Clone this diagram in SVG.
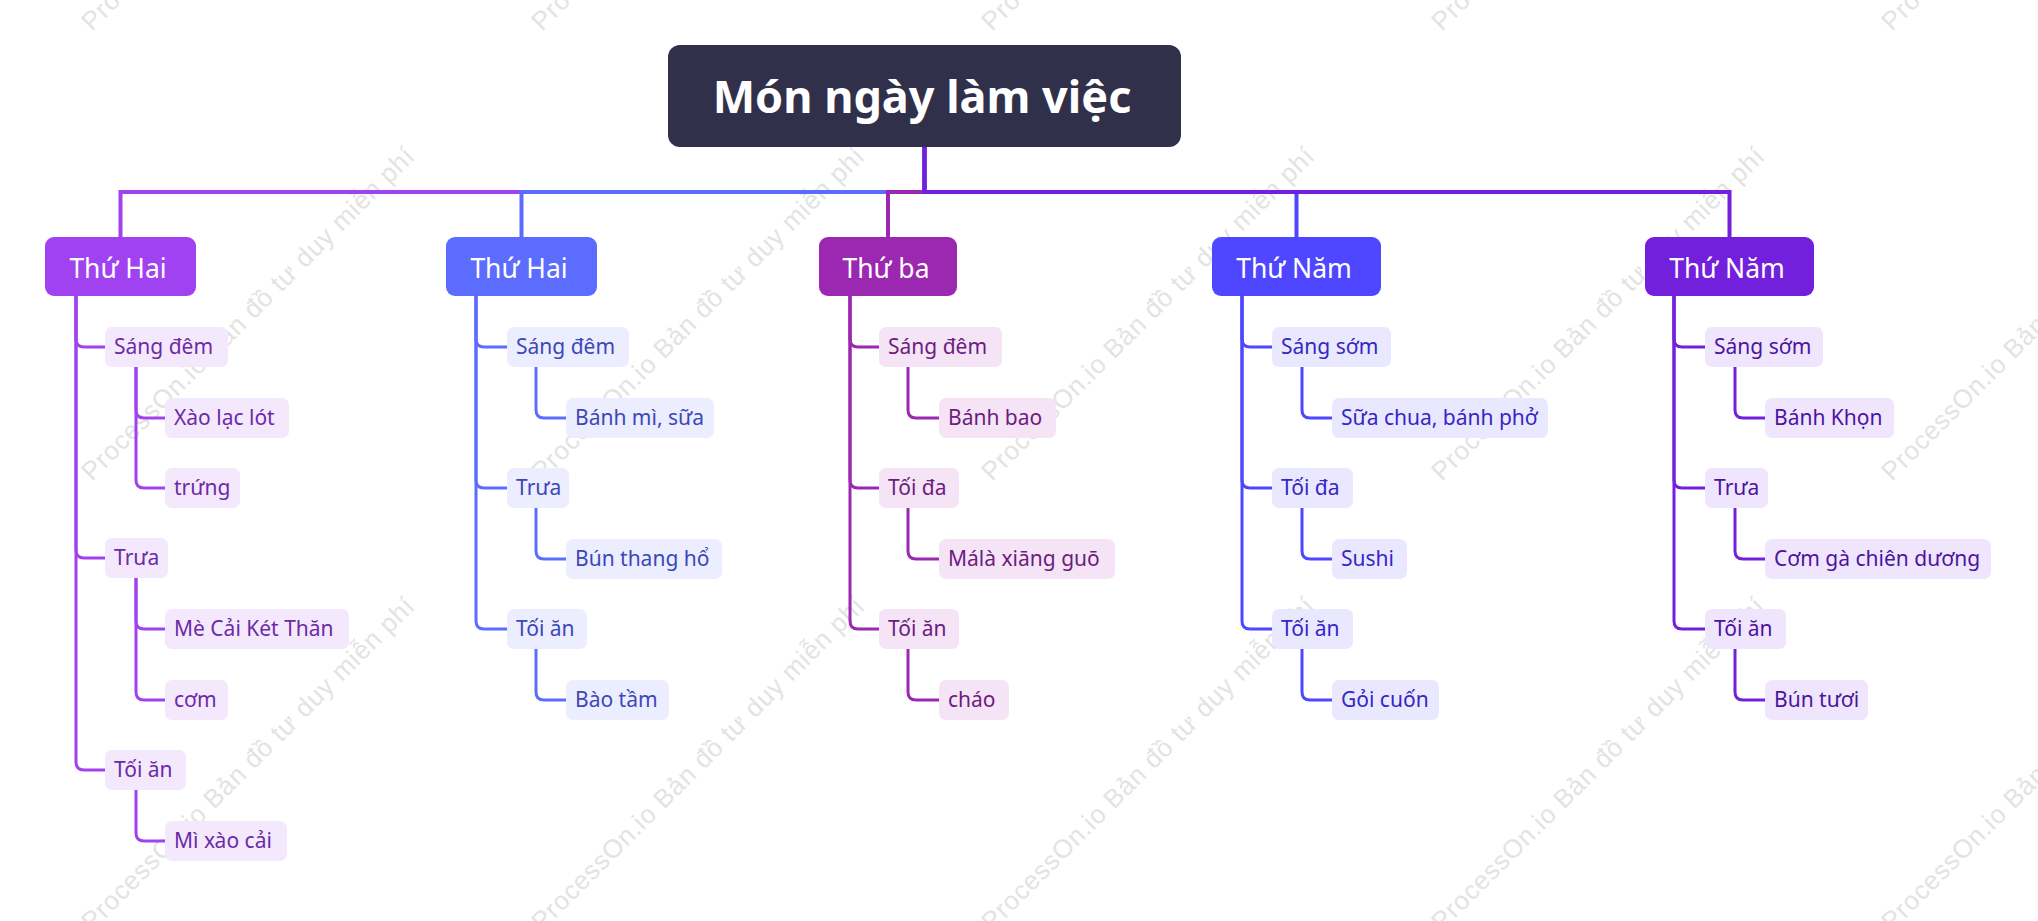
<svg xmlns="http://www.w3.org/2000/svg" width="2038" height="921" viewBox="0 0 2038 921">
<style>
.wm{font-family:"Liberation Sans",Arial,sans-serif;font-size:26px;fill:#e3e3e3}
.root-t{font-family:"Noto Sans","Open Sans",sans-serif;font-weight:700;font-size:45px;fill:#fff;text-anchor:middle}
.l1t{font-family:"Noto Sans","Open Sans",sans-serif;font-size:26.5px;fill:#fff;text-anchor:middle}
.l2t{font-family:"Noto Sans","Open Sans",sans-serif;font-size:21px}
.c{fill:none;stroke-width:3;stroke-linecap:round;stroke-linejoin:round}
.top{fill:none;stroke-width:4}
.k1{stroke:#a142f0}.k2{stroke:#5b6cff}.k3{stroke:#9c27b0}.k4{stroke:#4f46ff}.k5{stroke:#7220dc}
.f1{fill:#f4e8fd}.f2{fill:#ecedfe}.f3{fill:#f4e4f6}.f4{fill:#eae8ff}.f5{fill:#efe5fc}
.t1{fill:#6c2ba6}.t2{fill:#3b48b8}.t3{fill:#6d1c80}.t4{fill:#3527c4}.t5{fill:#4c14a0}
</style>
<rect width="2038" height="921" fill="#ffffff"/>
<g id="watermark">
<text class="wm" x="92" y="32" transform="rotate(-45 92 32)" textLength="458">ProcessOn.io Bản đồ tư duy miễn phí</text>
<text class="wm" x="542" y="32" transform="rotate(-45 542 32)" textLength="458">ProcessOn.io Bản đồ tư duy miễn phí</text>
<text class="wm" x="992" y="32" transform="rotate(-45 992 32)" textLength="458">ProcessOn.io Bản đồ tư duy miễn phí</text>
<text class="wm" x="1442" y="32" transform="rotate(-45 1442 32)" textLength="458">ProcessOn.io Bản đồ tư duy miễn phí</text>
<text class="wm" x="1892" y="32" transform="rotate(-45 1892 32)" textLength="458">ProcessOn.io Bản đồ tư duy miễn phí</text>
<text class="wm" x="92" y="482" transform="rotate(-45 92 482)" textLength="458">ProcessOn.io Bản đồ tư duy miễn phí</text>
<text class="wm" x="542" y="482" transform="rotate(-45 542 482)" textLength="458">ProcessOn.io Bản đồ tư duy miễn phí</text>
<text class="wm" x="992" y="482" transform="rotate(-45 992 482)" textLength="458">ProcessOn.io Bản đồ tư duy miễn phí</text>
<text class="wm" x="1442" y="482" transform="rotate(-45 1442 482)" textLength="458">ProcessOn.io Bản đồ tư duy miễn phí</text>
<text class="wm" x="1892" y="482" transform="rotate(-45 1892 482)" textLength="458">ProcessOn.io Bản đồ tư duy miễn phí</text>
<text class="wm" x="92" y="932" transform="rotate(-45 92 932)" textLength="458">ProcessOn.io Bản đồ tư duy miễn phí</text>
<text class="wm" x="542" y="932" transform="rotate(-45 542 932)" textLength="458">ProcessOn.io Bản đồ tư duy miễn phí</text>
<text class="wm" x="992" y="932" transform="rotate(-45 992 932)" textLength="458">ProcessOn.io Bản đồ tư duy miễn phí</text>
<text class="wm" x="1442" y="932" transform="rotate(-45 1442 932)" textLength="458">ProcessOn.io Bản đồ tư duy miễn phí</text>
<text class="wm" x="1892" y="932" transform="rotate(-45 1892 932)" textLength="458">ProcessOn.io Bản đồ tư duy miễn phí</text>
</g>
<g id="connectors">
<path class="top k1" d="M924.5 147 V192 H120.5 V238"/>
<path class="top k2" d="M924.5 147 V192 H521.5 V238"/>
<path class="top k3" d="M924.5 147 V192 H888 V238"/>
<path class="top k4" d="M924.5 147 V192 H1296.5 V238"/>
<path class="top k5" d="M924.5 147 V192 H1729.5 V238"/>
<path class="c k1" d="M76 296 V339 Q76 347 84 347 H105"/>
<path class="c k1" d="M76 296 V550 Q76 558 84 558 H105"/>
<path class="c k1" d="M76 296 V762 Q76 770 84 770 H105"/>
<path class="c k1" d="M136 367 V410 Q136 418 144 418 H165"/>
<path class="c k1" d="M136 367 V480 Q136 488 144 488 H165"/>
<path class="c k1" d="M136 578 V621 Q136 629 144 629 H165"/>
<path class="c k1" d="M136 578 V692 Q136 700 144 700 H165"/>
<path class="c k1" d="M136 790 V833 Q136 841 144 841 H165"/>
<path class="c k2" d="M476 296 V339 Q476 347 484 347 H507"/>
<path class="c k2" d="M476 296 V480 Q476 488 484 488 H507"/>
<path class="c k2" d="M476 296 V621 Q476 629 484 629 H507"/>
<path class="c k2" d="M536 367 V410 Q536 418 544 418 H566"/>
<path class="c k2" d="M536 508 V551 Q536 559 544 559 H566"/>
<path class="c k2" d="M536 649 V692 Q536 700 544 700 H566"/>
<path class="c k3" d="M850 296 V339 Q850 347 858 347 H879"/>
<path class="c k3" d="M850 296 V480 Q850 488 858 488 H879"/>
<path class="c k3" d="M850 296 V621 Q850 629 858 629 H879"/>
<path class="c k3" d="M908 367 V410 Q908 418 916 418 H939"/>
<path class="c k3" d="M908 508 V551 Q908 559 916 559 H939"/>
<path class="c k3" d="M908 649 V692 Q908 700 916 700 H939"/>
<path class="c k4" d="M1242 296 V339 Q1242 347 1250 347 H1272"/>
<path class="c k4" d="M1242 296 V480 Q1242 488 1250 488 H1272"/>
<path class="c k4" d="M1242 296 V621 Q1242 629 1250 629 H1272"/>
<path class="c k4" d="M1302 367 V410 Q1302 418 1310 418 H1332"/>
<path class="c k4" d="M1302 508 V551 Q1302 559 1310 559 H1332"/>
<path class="c k4" d="M1302 649 V692 Q1302 700 1310 700 H1332"/>
<path class="c k5" d="M1674 296 V339 Q1674 347 1682 347 H1705"/>
<path class="c k5" d="M1674 296 V480 Q1674 488 1682 488 H1705"/>
<path class="c k5" d="M1674 296 V621 Q1674 629 1682 629 H1705"/>
<path class="c k5" d="M1735 367 V410 Q1735 418 1743 418 H1765"/>
<path class="c k5" d="M1735 508 V551 Q1735 559 1743 559 H1765"/>
<path class="c k5" d="M1735 649 V692 Q1735 700 1743 700 H1765"/>
</g>
<g id="root">
<rect x="668" y="45" width="513" height="102" rx="12" fill="#31304b"/>
<text class="root-t" x="922" y="113">Món ngày làm việc</text>
</g>
<g id="n1"><rect x="45" y="237" width="151" height="59" rx="9" fill="#a142f0"/><text class="l1t" x="118" y="278">Thứ Hai</text></g>
<g id="n1a"><rect class="f1" x="105" y="327" width="123" height="40" rx="7"/><text class="l2t t1" x="114" y="354">Sáng đêm</text></g>
<g id="n1a1"><rect class="f1" x="165" y="398" width="124" height="40" rx="7"/><text class="l2t t1" x="174" y="425">Xào lạc lót</text></g>
<g id="n1a2"><rect class="f1" x="165" y="468" width="75" height="40" rx="7"/><text class="l2t t1" x="174" y="495">trứng</text></g>
<g id="n1b"><rect class="f1" x="105" y="538" width="63" height="40" rx="7"/><text class="l2t t1" x="114" y="565">Trưa</text></g>
<g id="n1b1"><rect class="f1" x="165" y="609" width="184" height="40" rx="7"/><text class="l2t t1" x="174" y="636">Mè Cải Két Thăn</text></g>
<g id="n1b2"><rect class="f1" x="165" y="680" width="63" height="40" rx="7"/><text class="l2t t1" x="174" y="707">cơm</text></g>
<g id="n1c"><rect class="f1" x="105" y="750" width="81" height="40" rx="7"/><text class="l2t t1" x="114" y="777">Tối ăn</text></g>
<g id="n1c1"><rect class="f1" x="165" y="821" width="122" height="40" rx="7"/><text class="l2t t1" x="174" y="848">Mì xào cải</text></g>
<g id="n2"><rect x="446" y="237" width="151" height="59" rx="9" fill="#5b6cff"/><text class="l1t" x="519" y="278">Thứ Hai</text></g>
<g id="n2a"><rect class="f2" x="507" y="327" width="122" height="40" rx="7"/><text class="l2t t2" x="516" y="354">Sáng đêm</text></g>
<g id="n2a1"><rect class="f2" x="566" y="398" width="148" height="40" rx="7"/><text class="l2t t2" x="575" y="425">Bánh mì, sữa</text></g>
<g id="n2b"><rect class="f2" x="507" y="468" width="62" height="40" rx="7"/><text class="l2t t2" x="516" y="495">Trưa</text></g>
<g id="n2b1"><rect class="f2" x="566" y="539" width="156" height="40" rx="7"/><text class="l2t t2" x="575" y="566">Bún thang hổ</text></g>
<g id="n2c"><rect class="f2" x="507" y="609" width="80" height="40" rx="7"/><text class="l2t t2" x="516" y="636">Tối ăn</text></g>
<g id="n2c1"><rect class="f2" x="566" y="680" width="103" height="40" rx="7"/><text class="l2t t2" x="575" y="707">Bào tầm</text></g>
<g id="n3"><rect x="819" y="237" width="138" height="59" rx="9" fill="#9c27b0"/><text class="l1t" x="886" y="278">Thứ ba</text></g>
<g id="n3a"><rect class="f3" x="879" y="327" width="123" height="40" rx="7"/><text class="l2t t3" x="888" y="354">Sáng đêm</text></g>
<g id="n3a1"><rect class="f3" x="939" y="398" width="117" height="40" rx="7"/><text class="l2t t3" x="948" y="425">Bánh bao</text></g>
<g id="n3b"><rect class="f3" x="879" y="468" width="80" height="40" rx="7"/><text class="l2t t3" x="888" y="495">Tối đa</text></g>
<g id="n3b1"><rect class="f3" x="939" y="539" width="176" height="40" rx="7"/><text class="l2t t3" x="948" y="566">Málà xiāng guō</text></g>
<g id="n3c"><rect class="f3" x="879" y="609" width="80" height="40" rx="7"/><text class="l2t t3" x="888" y="636">Tối ăn</text></g>
<g id="n3c1"><rect class="f3" x="939" y="680" width="70" height="40" rx="7"/><text class="l2t t3" x="948" y="707">cháo</text></g>
<g id="n4"><rect x="1212" y="237" width="169" height="59" rx="9" fill="#4f46ff"/><text class="l1t" x="1294" y="278">Thứ Năm</text></g>
<g id="n4a"><rect class="f4" x="1272" y="327" width="119" height="40" rx="7"/><text class="l2t t4" x="1281" y="354">Sáng sớm</text></g>
<g id="n4a1"><rect class="f4" x="1332" y="398" width="216" height="40" rx="7"/><text class="l2t t4" x="1341" y="425">Sữa chua, bánh phở</text></g>
<g id="n4b"><rect class="f4" x="1272" y="468" width="81" height="40" rx="7"/><text class="l2t t4" x="1281" y="495">Tối đa</text></g>
<g id="n4b1"><rect class="f4" x="1332" y="539" width="75" height="40" rx="7"/><text class="l2t t4" x="1341" y="566">Sushi</text></g>
<g id="n4c"><rect class="f4" x="1272" y="609" width="81" height="40" rx="7"/><text class="l2t t4" x="1281" y="636">Tối ăn</text></g>
<g id="n4c1"><rect class="f4" x="1332" y="680" width="107" height="40" rx="7"/><text class="l2t t4" x="1341" y="707">Gỏi cuốn</text></g>
<g id="n5"><rect x="1645" y="237" width="169" height="59" rx="9" fill="#7220dc"/><text class="l1t" x="1727" y="278">Thứ Năm</text></g>
<g id="n5a"><rect class="f5" x="1705" y="327" width="118" height="40" rx="7"/><text class="l2t t5" x="1714" y="354">Sáng sớm</text></g>
<g id="n5a1"><rect class="f5" x="1765" y="398" width="129" height="40" rx="7"/><text class="l2t t5" x="1774" y="425">Bánh Khọn</text></g>
<g id="n5b"><rect class="f5" x="1705" y="468" width="63" height="40" rx="7"/><text class="l2t t5" x="1714" y="495">Trưa</text></g>
<g id="n5b1"><rect class="f5" x="1765" y="539" width="226" height="40" rx="7"/><text class="l2t t5" x="1774" y="566">Cơm gà chiên dương</text></g>
<g id="n5c"><rect class="f5" x="1705" y="609" width="81" height="40" rx="7"/><text class="l2t t5" x="1714" y="636">Tối ăn</text></g>
<g id="n5c1"><rect class="f5" x="1765" y="680" width="103" height="40" rx="7"/><text class="l2t t5" x="1774" y="707">Bún tươi</text></g>
</svg>
